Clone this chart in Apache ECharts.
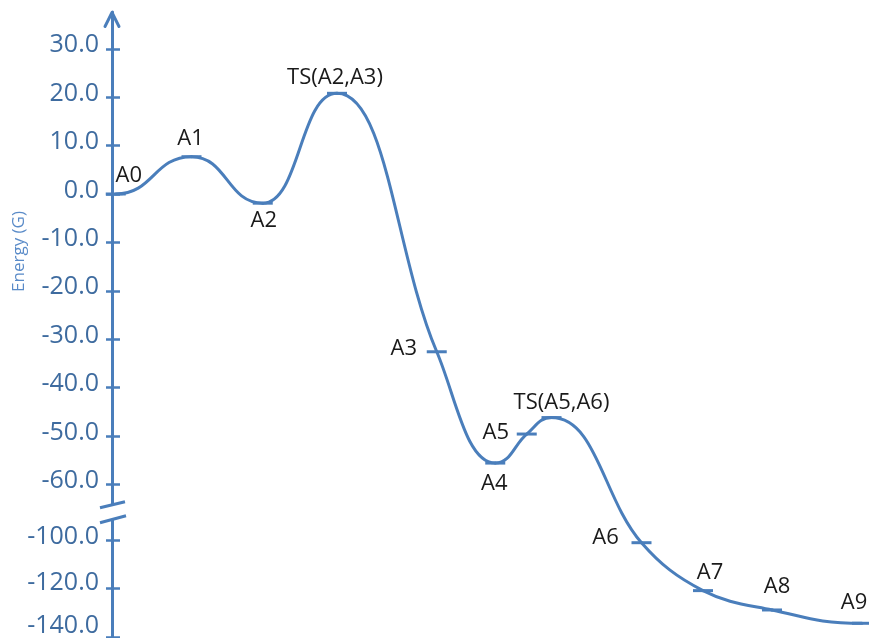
<!DOCTYPE html>
<html>
<head>
<meta charset="utf-8">
<script src="https://cdn.jsdelivr.net/npm/echarts@6/dist/echarts.min.js"></script>
<style>
  html, body { margin: 0; padding: 0; background: #ffffff; }
  #chart { width: 869px; height: 638px; }
</style>
</head>
<body>
<div id="chart"></div>
<script>
// States along the reaction path and their relative energies (G)
const stateNames = ['A0', 'A1', 'A2', 'TS(A2,A3)', 'A3', 'A4', 'A5', 'TS(A5,A6)', 'A6', 'A7', 'A8', 'A9'];
const reactionCoord = [0.05, 1.06, 2.01, 3.0, 4.33, 5.11, 5.53, 5.86, 7.06, 7.88, 8.8, 10.0];
const energies = [0.0, 7.7, -1.9, 20.8, -32.6, -55.6, -49.6, -46.2, -101.1, -120.9, -128.9, -134.4];
const tickValues = [30, 20, 10, 0, -10, -20, -30, -40, -50, -60, -100, -120, -140];

// where each state's name sits relative to its marker
const labelOffsets = [[13, -18], [-1, -18], [1, 18], [-2, -16], [-33, -3], [-1, 21],
                      [-31, -1], [10, -15], [-36, -5], [7, -18], [5, -23], [-8, -21]];

const BLUE = '#4a7ebb';

// Broken energy scale: 10 G per step down to -60, a gap, then 20 G per step from -100 on
const LOW_TOP = -7.15;
function toScale(e) {
  if (e >= -60) return e / 10;
  if (e <= -100) return LOW_TOP + (e + 100) / 20;
  return -6 + (e + 60) / 40 * (LOW_TOP + 6);
}

const tickPositions = tickValues.map(toScale);

// tick text, nudged upward a little more near the bottom of the axis
function tickText(v) {
  const t = tickValues.find(function (t) { return Math.abs(toScale(t) - v) < 1e-6; });
  if (t === undefined) return '';
  const style = t === -140 ? 'c' : (t === -120 ? 'b' : 'a');
  return '{' + style + '|' + t.toFixed(1) + '}';
}

const points = reactionCoord.map(function (x, i) { return [x, toScale(energies[i])]; });

// Bezier handles for a smooth profile: flat at the ends and at every extremum,
// otherwise along the chord through the neighbouring states.
function bezierHandles(px) {
  const K = 0.38, KH = 0.5;
  return px.map(function (p, i) {
    const prev = px[i - 1], next = px[i + 1];
    const flat = !prev || !next || (p[1] - prev[1]) * (next[1] - p[1]) <= 0;
    if (flat) {
      return {
        inH: prev ? [p[0] - KH * (p[0] - prev[0]), p[1]] : p,
        outH: next ? [p[0] + KH * (next[0] - p[0]), p[1]] : p
      };
    }
    const tx = next[0] - prev[0], ty = next[1] - prev[1];
    const tl = Math.hypot(tx, ty), ux = tx / tl, uy = ty / tl;
    const lp = Math.hypot(p[0] - prev[0], p[1] - prev[1]) * K;
    const ln = Math.hypot(next[0] - p[0], next[1] - p[1]) * K;
    return { inH: [p[0] - ux * lp, p[1] - uy * lp], outH: [p[0] + ux * ln, p[1] + uy * ln] };
  });
}

function renderSegment(params, api) {
  const i = params.dataIndex;
  if (i >= points.length - 1) return null;
  const px = points.map(function (pt) { return api.coord(pt); });
  const h = bezierHandles(px);
  return {
    type: 'bezierCurve',
    shape: {
      x1: px[i][0], y1: px[i][1], x2: px[i + 1][0], y2: px[i + 1][1],
      cpx1: h[i].outH[0], cpy1: h[i].outH[1], cpx2: h[i + 1].inH[0], cpy2: h[i + 1].inH[1]
    },
    style: { stroke: BLUE, lineWidth: 3, fill: null, lineCap: 'round' }
  };
}

const markerData = stateNames.map(function (name, i) {
  return { name: name, value: points[i], label: { offset: labelOffsets[i] } };
});

const chart = echarts.init(document.getElementById('chart'), null, { renderer: 'canvas' });

const scaleMin = -9.174, scaleMax = 3.76;
const tickLabelFont = { color: '#3e6b9f', fontSize: 25, fontFamily: 'Open Sans' };

chart.setOption({
  animation: false,
  backgroundColor: '#ffffff',
  grid: { left: 112, right: 7, top: 12, bottom: 0, containLabel: false, outerBoundsMode: 'none' },
  xAxis: { type: 'value', min: 0, max: 10, show: false },
  yAxis: [
    {
      type: 'value', min: scaleMin, max: scaleMax, position: 'left',
      axisLine: { show: true, lineStyle: { color: BLUE, width: 3 } },
      axisTick: { show: true, length: 6, customValues: tickPositions, lineStyle: { color: BLUE, width: 2.5 } },
      axisLabel: {
        customValues: tickPositions,
        formatter: tickText, margin: 13,
        color: tickLabelFont.color, fontSize: tickLabelFont.fontSize, fontFamily: tickLabelFont.fontFamily,
        rich: {
          a: Object.assign({ padding: [0, 0, 7, 0] }, tickLabelFont),
          b: Object.assign({ padding: [0, 0, 12, 0] }, tickLabelFont),
          c: Object.assign({ padding: [0, 0, 22, 0] }, tickLabelFont)
        }
      },
      splitLine: { show: false }
    },
    {
      type: 'value', min: scaleMin, max: scaleMax, position: 'left',
      axisLine: { show: false },
      axisTick: { show: true, inside: true, length: 8, customValues: tickPositions, lineStyle: { color: BLUE, width: 2.5 } },
      axisLabel: { show: false },
      splitLine: { show: false }
    }
  ],
  series: [
    {
      type: 'custom',
      renderItem: renderSegment,
      data: points,
      clip: false,
      z: 2,
      silent: true
    },
    {
      type: 'scatter',
      data: markerData,
      symbol: 'rect',
      symbolSize: [20, 3],
      itemStyle: { color: BLUE, opacity: 1 },
      label: {
        show: true, position: 'inside', formatter: '{b}',
        color: '#1a1a1a', fontSize: 22, fontFamily: 'Open Sans'
      },
      z: 3,
      emphasis: { disabled: true }
    }
  ]
});

// axis arrow, axis title and the break marks between -60 and -100
const axisX = chart.convertToPixel({ gridIndex: 0 }, [0, 0])[0];
const topY = chart.convertToPixel({ gridIndex: 0 }, [0, scaleMax])[1];
const breakY = chart.convertToPixel({ gridIndex: 0 }, [0, (toScale(-60) + toScale(-100)) / 2])[1];

chart.setOption({
  graphic: [
    {
      type: 'polyline', x: axisX, y: topY, z: 100,
      shape: { points: [[-7, 14.5], [0, 0.5], [7, 14.5]] },
      style: { stroke: BLUE, lineWidth: 3, fill: null, lineJoin: 'round', lineCap: 'round' }
    },
    {
      type: 'text', x: 19.5, y: 251.5, rotation: Math.PI / 2,
      style: {
        text: 'Energy (G)', fill: '#5a8bc8', fontSize: 17, fontFamily: 'Open Sans',
        align: 'center', verticalAlign: 'middle'
      }
    },
    {
      type: 'polygon', x: axisX, y: breakY, z: 100,
      shape: { points: [[-12, -4.5], [13, -10.5], [14, 3.5], [-12, 10.5]] },
      style: { fill: '#ffffff' }
    },
    {
      type: 'line', x: axisX, y: breakY, z: 101,
      shape: { x1: -12, y1: -4.5, x2: 13, y2: -10.5 },
      style: { stroke: BLUE, lineWidth: 3 }
    },
    {
      type: 'line', x: axisX, y: breakY, z: 101,
      shape: { x1: -12, y1: 10.5, x2: 14, y2: 3.5 },
      style: { stroke: BLUE, lineWidth: 3 }
    }
  ]
});
</script>
</body>
</html>
